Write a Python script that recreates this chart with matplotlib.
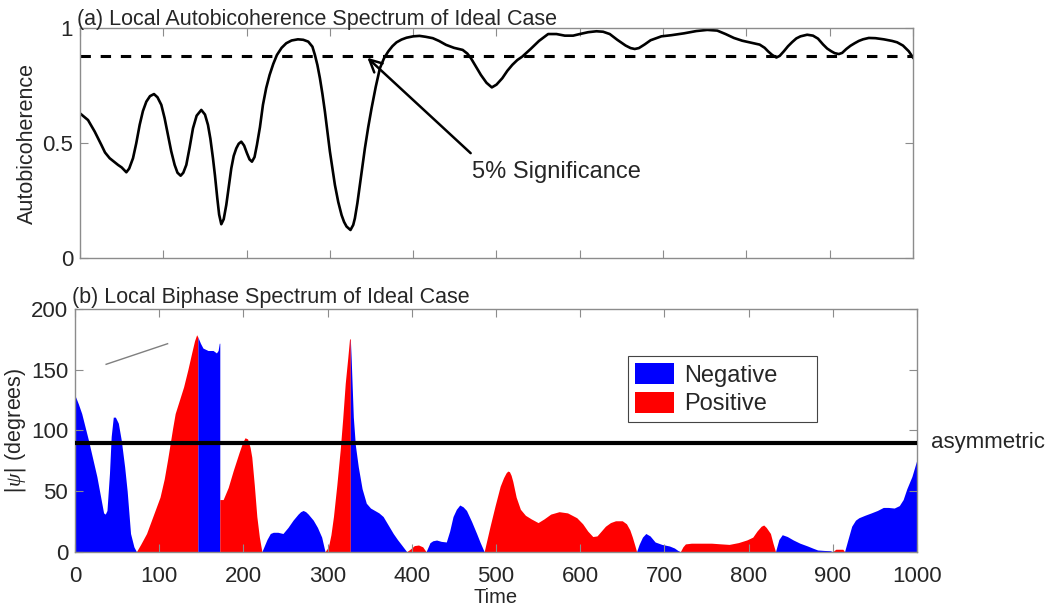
import numpy as np
import matplotlib
matplotlib.use("Agg")
import matplotlib.pyplot as plt
from matplotlib.patches import Patch

plt.rcParams['font.family'] = ['Liberation Sans', 'DejaVu Sans']
plt.rcParams['mathtext.fontset'] = 'custom'
plt.rcParams['mathtext.it'] = 'Liberation Serif:italic'

# ---------------- (a) local autobicoherence ----------------
bic_time = [0, 9.6, 17.6, 25.6, 30, 35.6, 45.6, 50, 55.6, 59, 63.6, 67.5, 71.6, 75.5,
            79.6, 84, 88.8, 93, 97.6, 101.5, 105.6, 109.5, 113.6, 117, 120.8, 124,
            127.6, 131.5, 135.6, 140, 145.6, 150, 153.6, 156.5, 159.6, 162, 164.8,
            167, 169.6, 172.5, 175.6, 178.5, 181.6, 184.5, 187.6, 190.5, 193.6, 197,
            200.4, 203.5, 206.4, 209.5, 212.4, 216, 219.6, 223.5, 227.6, 232, 236.4,
            242, 247.6, 254, 261.6, 268, 274, 279, 282, 285, 288, 291, 294, 297, 300,
            303, 306, 310, 314, 317, 320, 324.7, 328, 330, 333, 336, 339, 342, 346,
            350, 355, 360, 365, 370, 375, 380, 386, 392, 400, 407.6, 415, 423.5, 431,
            439.4, 449, 459.4, 465, 469.3, 475, 481.3, 488, 494.4, 500, 507, 513, 519,
            525, 531, 541, 551, 562, 572, 582, 592, 600, 610, 620, 628, 636, 645, 655,
            661, 666, 671, 678, 685, 698, 710, 725, 740, 753, 765, 775, 785, 795, 805,
            816, 822, 826, 831, 836, 840, 845, 850, 855, 860, 865, 873, 880, 886, 892,
            897, 902, 906, 911, 915, 920, 925, 930, 935, 940, 947, 955, 965, 975, 981,
            988, 995, 1000]
bic_value = [0.630, 0.601, 0.551, 0.493, 0.46, 0.435, 0.406, 0.395, 0.374, 0.39, 0.435,
             0.50, 0.58, 0.64, 0.681, 0.705, 0.714, 0.70, 0.667, 0.61, 0.536, 0.465,
             0.406, 0.372, 0.359, 0.372, 0.406, 0.48, 0.565, 0.62, 0.645, 0.625, 0.58,
             0.52, 0.435, 0.36, 0.261, 0.19, 0.148, 0.17, 0.232, 0.31, 0.391, 0.445,
             0.478, 0.498, 0.507, 0.49, 0.457, 0.43, 0.42, 0.44, 0.493, 0.57, 0.667,
             0.74, 0.797, 0.845, 0.884, 0.915, 0.935, 0.947, 0.952, 0.95, 0.942, 0.92,
             0.884, 0.84, 0.783, 0.715, 0.638, 0.55, 0.464, 0.39, 0.319, 0.245, 0.188,
             0.158, 0.138, 0.123, 0.145, 0.174, 0.24, 0.319, 0.40, 0.478, 0.57, 0.652,
             0.745, 0.826, 0.87, 0.899, 0.922, 0.939, 0.951, 0.959, 0.965, 0.967, 0.963,
             0.957, 0.945, 0.928, 0.915, 0.906, 0.89, 0.870, 0.835, 0.797, 0.763, 0.743,
             0.755, 0.783, 0.815, 0.841, 0.862, 0.877, 0.91, 0.945, 0.975, 0.975, 0.968,
             0.968, 0.975, 0.983, 0.987, 0.985, 0.975, 0.95, 0.925, 0.914, 0.910, 0.914,
             0.93, 0.948, 0.965, 0.97, 0.978, 0.988, 0.993, 0.99, 0.975, 0.958, 0.946,
             0.938, 0.929, 0.915, 0.90, 0.884, 0.873, 0.88, 0.90, 0.922, 0.94, 0.956,
             0.965, 0.972, 0.968, 0.955, 0.93, 0.912, 0.90, 0.892, 0.888, 0.893, 0.91,
             0.924, 0.935, 0.945, 0.952, 0.958, 0.957, 0.952, 0.945, 0.939, 0.925, 0.90,
             0.873]
significance_level = 0.878

# ---------------- (b) local biphase ----------------
# each row: time, |psi| in degrees, sign of the biphase (-1 negative, +1 positive)
phase_time = [
    0, 4, 8, 12, 16, 21, 26, 30, 34, 36, 38, 41, 43, 45.5, 48, 51.5, 55, 59, 62, 66, 70, 73,
    73, 78, 85, 93, 101, 106, 110, 113, 116, 119, 124, 129, 134, 138.6, 142, 144.5, 146,
    146, 149, 152, 158, 164, 168, 170, 171.4, 172,
    172, 176, 182, 188, 195, 199, 202, 205, 208, 210, 213, 216, 219, 222,
    222, 225, 228, 232, 235.5, 241, 247, 253, 259, 265, 268, 271, 274, 277, 283, 288,
    293, 297,
    297, 301, 304, 307, 311, 315, 318, 321, 324, 326, 327,
    327, 328, 330.6, 333, 336.5, 341, 346, 351, 356, 361, 366, 372, 378, 383, 388, 394,
    394, 398, 403, 408, 413, 417,
    417, 421.6, 425, 429.5, 435, 441, 445, 449, 453, 457, 461, 465, 471, 477, 481, 486,
    486, 490, 493, 499, 505, 509, 512, 514, 516, 518, 520, 524, 529, 535, 542, 550, 557,
    565, 575, 585, 596, 603, 609, 615, 620, 625, 630, 636, 642, 650, 655, 659, 662, 665,
    667,
    667, 670, 674, 678, 683, 689, 697, 706, 712, 716, 719,
    719, 722, 725, 732, 739, 748, 756, 766, 777, 788, 798, 805, 810, 815, 818, 821, 826,
    829, 832,
    832, 836, 840, 846, 853, 861, 870, 876, 882, 890, 897, 900,
    900, 903.6, 908, 912, 914,
    914, 918, 922.5, 927, 931, 938, 945.7, 953, 960, 966, 973, 979, 983.6, 988, 994, 997,
    1000]
phase_abs = [
    129, 122, 114, 103, 92, 77, 62, 47, 32, 31, 34, 65, 95, 111, 111, 106, 92, 70, 50, 15, 4, 0,
    0, 6, 15, 30, 45, 60, 76, 89, 102, 114, 125, 136, 150, 164, 174, 179, 177,
    177, 172, 168, 166, 166, 164, 166, 172, 172,
    43, 43, 53, 67, 82, 90, 94, 93, 86, 78, 55, 29, 12, 0,
    0, 5, 10, 15, 16, 16, 15, 20, 26, 31, 33, 34, 33, 31, 26, 20, 12, 0,
    0, 4, 14, 29, 55, 84, 110, 139, 160, 175, 176,
    176, 160, 111, 88, 70, 52, 40, 36, 34, 32, 29, 22, 15, 10, 5.5, 0,
    0, 2, 5, 5.5, 4, 0,
    0, 7.4, 9, 9.6, 8.5, 8, 17, 29, 35, 38.5, 37, 34, 25, 15, 8, 0,
    0, 12, 21, 38, 54, 61, 65, 66.5, 66, 63, 58, 45, 35, 30, 27, 24, 27,
    31, 33, 32, 28, 23, 17, 12.5, 13, 17, 21, 24, 25.5, 25.5, 23, 18, 12, 5,
    0,
    0, 6, 12, 15, 13, 8, 6, 4.7, 3, 1, 0,
    0, 4, 6.4, 7, 7, 7, 7, 6.5, 6, 7.5, 9.7, 12, 17, 21, 22, 20, 15,
    7, 0,
    0, 10, 14, 12.5, 9.7, 7, 4.7, 3, 1.4, 1, 0.8, 0,
    0, 2, 2, 2, 0,
    0, 10, 21, 26, 28, 30, 32, 34, 36.5, 36.5, 36, 38, 43, 52, 62, 69,
    76]
phase_sign = ([-1] * 22 + [1] * 17 + [-1] * 9 + [1] * 14 + [-1] * 18 + [1] * 11 +
              [-1] * 16 + [1] * 6 + [-1] * 16 + [1] * 35 + [-1] * 11 + [1] * 19 +
              [-1] * 12 + [1] * 5 + [-1] * 17)
asym_level = 90
guide_time = [37, 110]
guide_abs = [154.6, 171.6]

neg_color = '#0000ff'
pos_color = '#ff0000'
spine_color = '#8c8c8c'
text_color = '#262626'

fig = plt.figure(figsize=(10.53, 6.11), dpi=100)
ax1 = fig.add_axes([0.076, 0.5773, 0.791, 0.3764])
ax2 = fig.add_axes([0.0712, 0.0971, 0.7996, 0.3967])

for ax in (ax1, ax2):
    for sp in ax.spines.values():
        sp.set_color(spine_color)
        sp.set_linewidth(1.0)
    ax.tick_params(direction='in', length=5.5, width=0.8, color=spine_color,
                   top=True, right=True, labelsize=16, labelcolor=text_color, pad=5)

# panel (a)
ax1.plot(bic_time, bic_value, color='k', lw=1.9, solid_joinstyle='round')
ax1.axhline(significance_level, color='k', lw=2.2, linestyle=(0, (3.4, 3.2)))
ax1.set_xlim(0, 1000)
ax1.set_ylim(0, 1)
ax1.set_yticks([0, 0.5, 1])
ax1.set_yticklabels(['0', '0.5', '1'])
ax1.set_xticks(np.arange(0, 1001, 100))
ax1.tick_params(labelbottom=False)
ax1.set_ylabel('Autobicoherence', fontsize=15.5, color=text_color)
ax1.yaxis.set_label_coords(-0.051, 0.5)
ax1.text(-0.004, 1.013, '(a) Local Autobicoherence Spectrum of Ideal Case',
         transform=ax1.transAxes, fontsize=15.5, color=text_color,
         ha='left', va='baseline')
ax1.annotate('', xy=(345, 0.872), xytext=(469, 0.457),
             arrowprops=dict(arrowstyle='->', lw=1.8, color='k',
                             mutation_scale=22, shrinkA=0, shrinkB=0))
ax1.text(470, 0.377, '5% Significance', fontsize=17, color=text_color,
         ha='left', va='center')

# panel (b)
t = np.array(phase_time, dtype=float)
a = np.array(phase_abs, dtype=float)
s = np.array(phase_sign)
breaks = np.flatnonzero(np.diff(s) != 0) + 1
for idx in np.split(np.arange(len(t)), breaks):
    col = neg_color if s[idx[0]] < 0 else pos_color
    ax2.fill_between(t[idx], 0, a[idx], color=col, lw=0)

ax2.axhline(asym_level, color='k', lw=3.0, zorder=5)
ax2.plot(guide_time, guide_abs, color='#7f7f7f', lw=1.0)
ax2.text(1017, asym_level, 'asymmetric', fontsize=16, color=text_color,
         ha='left', va='center')
ax2.set_xlim(0, 1000)
ax2.set_ylim(0, 200)
ax2.set_xticks(np.arange(0, 1001, 100))
ax2.set_yticks(np.arange(0, 201, 50))
ax2.tick_params(axis='x', pad=10)
ax2.set_xlabel('Time', fontsize=14.5, color=text_color, labelpad=1)
ax2.set_ylabel(r'$|\psi|$ (degrees)', fontsize=15.5, color=text_color)
ax2.yaxis.set_label_coords(-0.056, 0.5)
ax2.text(-0.004, 1.025, '(b) Local Biphase Spectrum of Ideal Case',
         transform=ax2.transAxes, fontsize=15.5, color=text_color,
         ha='left', va='baseline')

handles = [Patch(facecolor=neg_color, edgecolor='none'),
           Patch(facecolor=pos_color, edgecolor='none')]
leg = ax2.legend(handles, ['Negative', 'Positive'], loc='upper left',
                 bbox_to_anchor=(0.657, 0.535, 0.224, 0.272), mode='expand',
                 borderaxespad=0, fontsize=17, fancybox=False, framealpha=1,
                 edgecolor='#444444', handlelength=1.65, handleheight=1.0,
                 handletextpad=0.4, labelspacing=0.2, borderpad=0.3)
leg.get_frame().set_linewidth(0.8)
for txt in leg.get_texts():
    txt.set_color(text_color)

fig.savefig('out.png', dpi=100)
